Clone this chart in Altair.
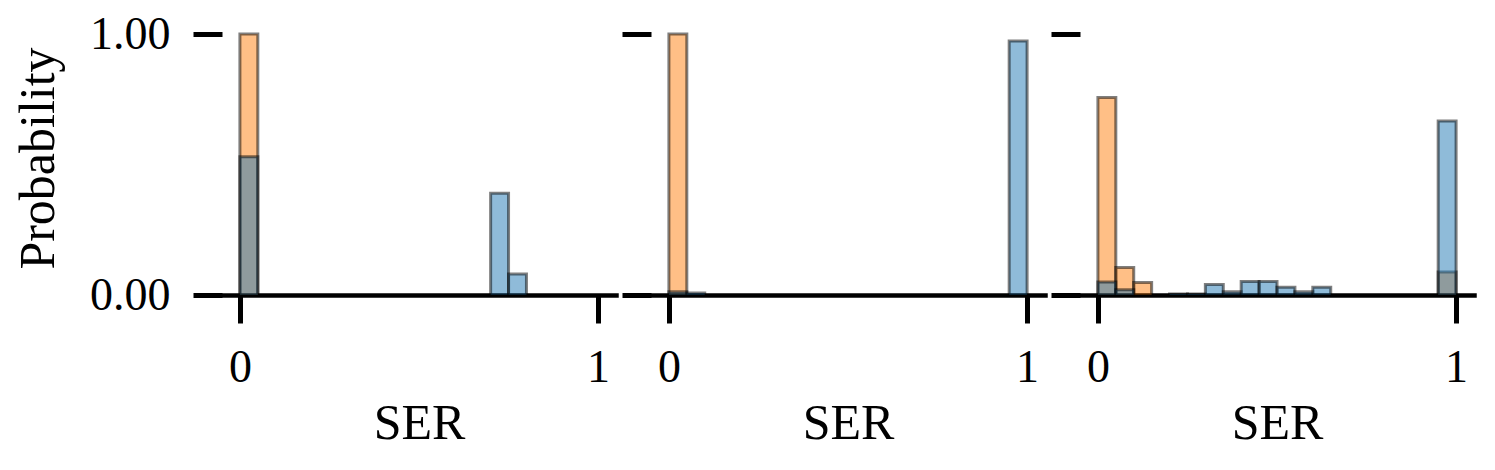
import altair as alt
import pandas as pd

# Histogram bins (SER), width 0.05
bin_lo = [0.00, 0.05, 0.10, 0.15, 0.20, 0.25, 0.30, 0.35, 0.40, 0.45,
          0.50, 0.55, 0.60, 0.65, 0.70, 0.75, 0.80, 0.85, 0.90, 0.95]
bin_hi = [0.05, 0.10, 0.15, 0.20, 0.25, 0.30, 0.35, 0.40, 0.45, 0.50,
          0.55, 0.60, 0.65, 0.70, 0.75, 0.80, 0.85, 0.90, 0.95, 1.00]

# Panel 1
p1_orange = [1.00, 0, 0, 0, 0, 0, 0, 0, 0, 0,
             0, 0, 0, 0, 0, 0, 0, 0, 0, 0]
p1_blue = [0.53, 0, 0, 0, 0, 0, 0, 0, 0, 0,
           0, 0, 0, 0, 0.39, 0.08, 0, 0, 0, 0]
# Panel 2
p2_orange = [1.00, 0, 0, 0, 0, 0, 0, 0, 0, 0,
             0, 0, 0, 0, 0, 0, 0, 0, 0, 0]
p2_blue = [0.012, 0.008, 0, 0, 0, 0, 0, 0, 0, 0,
           0, 0, 0, 0, 0, 0, 0, 0, 0, 0.973]
# Panel 3
p3_orange = [0.757, 0.105, 0.048, 0, 0, 0, 0, 0, 0, 0,
             0, 0, 0, 0, 0, 0, 0, 0, 0, 0.088]
p3_blue = [0.050, 0.020, 0, 0, 0.004, 0.004, 0.040, 0.012, 0.052, 0.052,
           0.030, 0.012, 0.030, 0, 0, 0, 0, 0, 0, 0.667]

panels = [(p1_orange, p1_blue), (p2_orange, p2_blue), (p3_orange, p3_blue)]

FONT = "Liberation Serif"
ORANGE = "#ff7f0e"
BLUE = "#1f77b4"


def make_panel(orange, blue, first):
    rows = []
    for series, vals in (("orange", orange), ("blue", blue)):
        for lo, hi, v in zip(bin_lo, bin_hi, vals):
            if v > 0:
                rows.append({"lo": lo, "hi": hi, "p": v, "s": series})
    df = pd.DataFrame(rows)

    xaxis = alt.Axis(values=[0, 1], format="d", title="SER", grid=False,
                     domainColor="black", domainWidth=4.5, domainCap="square",
                     tickColor="black", tickWidth=5, tickSize=28,
                     labelFont=FONT, labelFontSize=46, labelColor="black",
                     labelPadding=22, titleFont=FONT, titleFontSize=50,
                     titleFontWeight="normal", titleColor="black",
                     titlePadding=8)
    if first:
        yaxis = alt.Axis(values=[0, 1], format=".2f", title="Probability",
                         grid=False, domain=False, tickColor="black",
                         tickWidth=5, tickSize=29, labelFont=FONT,
                         labelFontSize=46, labelColor="black", labelPadding=23,
                         titleFont=FONT, titleFontSize=50,
                         titleFontWeight="normal", titleColor="black",
                         titlePadding=26)
    else:
        yaxis = alt.Axis(values=[0, 1], labels=False, title=None, grid=False,
                         domain=False, tickColor="black", tickWidth=5,
                         tickSize=29)

    x = alt.X("lo:Q", scale=alt.Scale(domain=[-0.05, 1.05], nice=False,
                                      zero=False), axis=xaxis)
    y = alt.Y("p:Q", scale=alt.Scale(domain=[0, 1.05], nice=False),
              axis=yaxis)

    base = alt.Chart(df)
    layers = []
    for series, color in (("orange", ORANGE), ("blue", BLUE)):
        layers.append(
            base.transform_filter(alt.datum.s == series)
            .mark_bar(color=color, fillOpacity=0.5, stroke="black",
                      strokeOpacity=0.5, strokeWidth=3)
            .encode(x=x, x2="hi:Q", y=y, y2=alt.datum(0))
        )
    return alt.layer(*layers).properties(width=394, height=274)


charts = [make_panel(o, b, i == 0) for i, (o, b) in enumerate(panels)]

chart = (
    alt.hconcat(*charts, spacing=3)
    .properties(padding={"left": 5, "top": 3, "right": 5, "bottom": 5})
    .configure_view(strokeWidth=0)
)

chart.save("out.html", embed_options={"renderer": "svg", "actions": False})
